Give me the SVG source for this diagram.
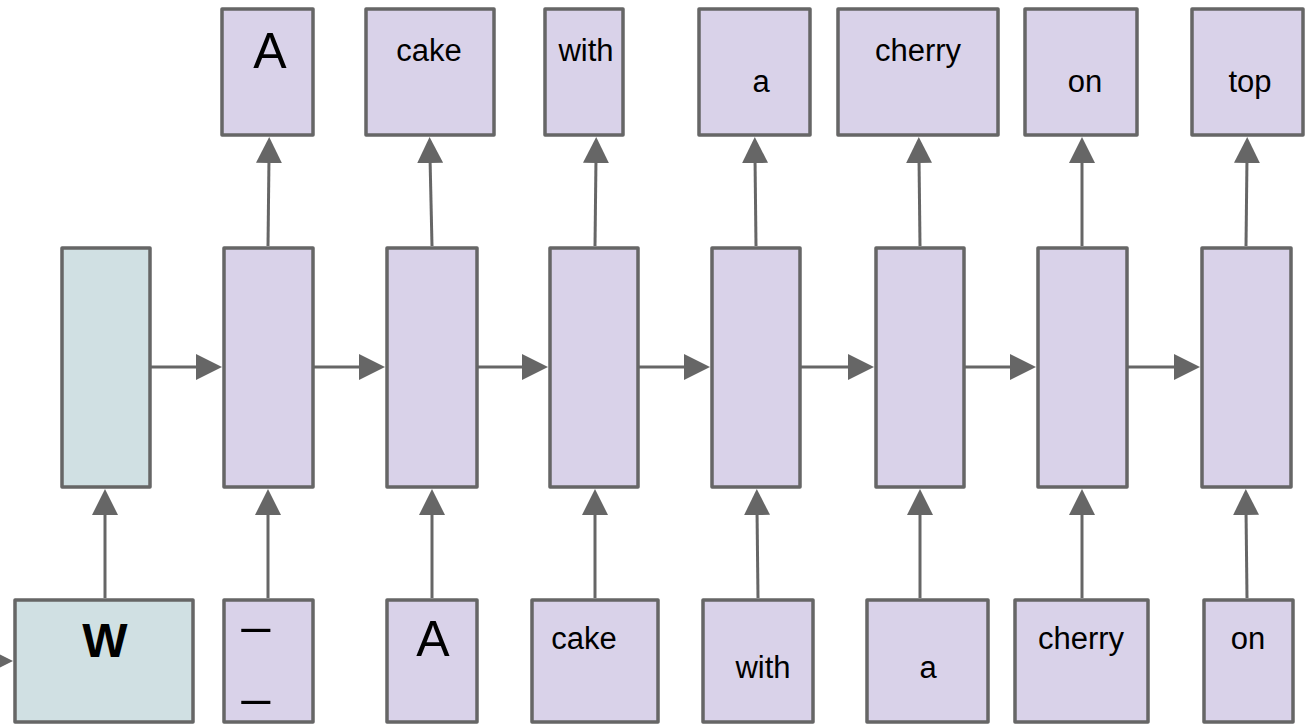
<svg xmlns="http://www.w3.org/2000/svg" width="1312" height="726" viewBox="0 0 1312 726">
<style>
.box{fill:#d9d2e9;stroke:#666666;stroke-width:3.5;stroke-linejoin:round}
.teal{fill:#d0e0e3;stroke:#666666;stroke-width:3.5;stroke-linejoin:round}
.c{stroke:#666666;stroke-width:3;fill:none;marker-end:url(#ah)}
text{font-family:"Liberation Sans",Arial,sans-serif;fill:#000;text-anchor:middle}
.s{font-size:31px}
.b{font-size:50px}
.w{font-size:48px;font-weight:bold}
</style>
<defs>
<marker id="ah" markerUnits="userSpaceOnUse" markerWidth="26" markerHeight="26" refX="6" refY="13" orient="auto">
<path d="M0,0 L26,13 L0,26 z" fill="#666666"/>
</marker>
</defs>
<rect width="1312" height="726" fill="#ffffff"/>
<g id="connectors">
<line class="c" x1="-30" y1="661" x2="-7" y2="661"/>
<line class="c" x1="150" y1="367" x2="202" y2="367"/>
<line class="c" x1="313" y1="367" x2="365" y2="367"/>
<line class="c" x1="477" y1="367" x2="528" y2="367"/>
<line class="c" x1="638" y1="367" x2="690" y2="367"/>
<line class="c" x1="800" y1="367" x2="854" y2="367"/>
<line class="c" x1="964" y1="367" x2="1016" y2="367"/>
<line class="c" x1="1127" y1="367" x2="1180" y2="367"/>
<line class="c" x1="105" y1="598" x2="105" y2="509"/>
<line class="c" x1="268" y1="598" x2="268" y2="509"/>
<line class="c" x1="432" y1="598" x2="432" y2="509"/>
<line class="c" x1="595" y1="598" x2="595" y2="509"/>
<line class="c" x1="758" y1="598" x2="757" y2="509"/>
<line class="c" x1="920" y1="598" x2="920" y2="509"/>
<line class="c" x1="1082" y1="598" x2="1082" y2="509"/>
<line class="c" x1="1247" y1="598" x2="1246" y2="509"/>
<line class="c" x1="268" y1="246" x2="269" y2="157"/>
<line class="c" x1="432" y1="246" x2="430" y2="157"/>
<line class="c" x1="595" y1="246" x2="596" y2="157"/>
<line class="c" x1="756" y1="246" x2="755" y2="157"/>
<line class="c" x1="920" y1="246" x2="919" y2="157"/>
<line class="c" x1="1082" y1="246" x2="1082" y2="157"/>
<line class="c" x1="1246" y1="246" x2="1247" y2="157"/>
</g>
<g id="out-A"><rect class="box" x="222" y="9" width="91" height="126"/><text class="b" x="270" y="68">A</text></g>
<g id="out-cake"><rect class="box" x="366" y="9" width="128" height="126"/><text class="s" x="429" y="61">cake</text></g>
<g id="out-with"><rect class="box" x="545" y="9" width="78" height="126"/><text class="s" x="586" y="61">with</text></g>
<g id="out-a"><rect class="box" x="699" y="9" width="111" height="126"/><text class="s" x="761" y="92">a</text></g>
<g id="out-cherry"><rect class="box" x="838" y="9" width="160" height="126"/><text class="s" x="918" y="61">cherry</text></g>
<g id="out-on"><rect class="box" x="1025" y="9" width="112" height="126"/><text class="s" x="1085" y="92">on</text></g>
<g id="out-top"><rect class="box" x="1192" y="9" width="111" height="126"/><text class="s" x="1250" y="92">top</text></g>
<g id="enc"><rect class="teal" x="62" y="248" width="88" height="239"/></g>
<g id="dec1"><rect class="box" x="224" y="248" width="89" height="239"/></g>
<g id="dec2"><rect class="box" x="387" y="248" width="90" height="239"/></g>
<g id="dec3"><rect class="box" x="550" y="248" width="88" height="239"/></g>
<g id="dec4"><rect class="box" x="712" y="248" width="88" height="239"/></g>
<g id="dec5"><rect class="box" x="876" y="248" width="88" height="239"/></g>
<g id="dec6"><rect class="box" x="1038" y="248" width="89" height="239"/></g>
<g id="dec7"><rect class="box" x="1202" y="248" width="89" height="239"/></g>
<g id="in-W"><rect class="teal" x="15" y="600" width="178" height="122"/><text class="w" x="105" y="657">W</text></g>
<g id="in-start"><rect class="box" x="224" y="600" width="89" height="122"/><text class="b" x="242" y="622" style="text-anchor:start">_</text><text class="b" x="242" y="694" style="text-anchor:start">_</text></g>
<g id="in-A"><rect class="box" x="387" y="600" width="90" height="122"/><text class="b" x="433" y="656">A</text></g>
<g id="in-cake"><rect class="box" x="532" y="600" width="126" height="122"/><text class="s" x="584" y="649">cake</text></g>
<g id="in-with"><rect class="box" x="703" y="600" width="110" height="122"/><text class="s" x="763" y="678">with</text></g>
<g id="in-a"><rect class="box" x="867" y="600" width="121" height="122"/><text class="s" x="928" y="678">a</text></g>
<g id="in-cherry"><rect class="box" x="1015" y="600" width="133" height="122"/><text class="s" x="1081" y="649">cherry</text></g>
<g id="in-on"><rect class="box" x="1204" y="600" width="89" height="122"/><text class="s" x="1248" y="649">on</text></g>
</svg>
